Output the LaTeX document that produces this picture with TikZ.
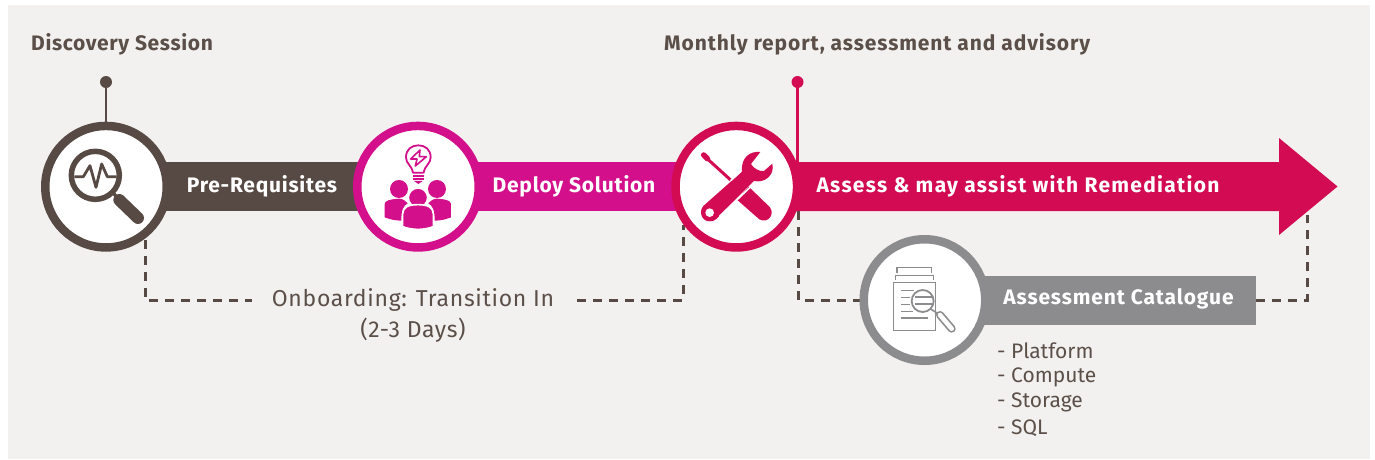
\documentclass[tikz,border=0pt]{standalone}
\usepackage{fontspec}
\setmainfont{Fira Sans}
\usetikzlibrary{calc}
\definecolor{bgc}{HTML}{F3F1EF}
\definecolor{brownc}{HTML}{574A44}
\definecolor{magc}{HTML}{D40F8C}
\definecolor{crimc}{HTML}{D30B52}
\definecolor{grayc}{HTML}{8C8C8E}
\definecolor{txtc}{HTML}{5A4F49}
\tikzset{
  ring/.style={circle,draw=#1,line width=8.5pt,fill=white,minimum size=121.5pt,inner sep=0pt},
  barlabel/.style={text=white,font=\fontsize{21}{24}\selectfont\bfseries\addfontfeature{LetterSpace=3.6},inner sep=0pt,anchor=center},
  headlabel/.style={text=txtc,font=\fontsize{21}{24}\selectfont\bfseries\addfontfeature{LetterSpace=#1},inner sep=0pt,anchor=west},
  onlabel/.style={text=txtc,font=\fontsize{23}{27}\selectfont\addfontfeature{LetterSpace=3},inner sep=0pt},
  listlabel/.style={text=txtc,font=\fontsize{21}{25}\selectfont,inner sep=0pt,anchor=west},
  dashline/.style={draw=brownc,line width=3pt,dash pattern=on 9pt off 7pt},
  stem/.style={line width=2.5pt},
  icon/.style={x=0.3333pt,y=-0.3333pt}
}
\begin{document}
\begin{tikzpicture}[x=1pt,y=-1pt]
\useasboundingbox (0,0) rectangle (1375,459);
\fill[white] (0,0) rectangle (1375,459);
\fill[bgc] (8,5) rectangle (1370,459);

% named anchor points
\coordinate (a1) at (145,240);
\coordinate (a1c) at (145,300);
\coordinate (a2) at (252,300);
\coordinate (a3) at (577,300);
\coordinate (a3c) at (683,300);
\coordinate (a4) at (683,225);
\coordinate (b1) at (798,211);
\coordinate (b1c) at (798,300);
\coordinate (b2) at (865,300);
\coordinate (e1) at (1256,300);
\coordinate (e1c) at (1307,300);
\coordinate (e2) at (1307,215);
\coordinate (d1) at (106,82);
\coordinate (d2) at (797.5,82);

% connectors
\draw[dashline] (a1) -- (a1c) -- (a2);
\draw[dashline] (a3) -- (a3c) -- (a4);
\draw[dashline] (b1) -- (b1c) -- (b2);
\draw[dashline] (e1) -- (e1c) -- (e2);

% bars
\fill[brownc] (150,162) rectangle (370,211);
\fill[magc] (460,162) rectangle (690,211);
\fill[crimc] (780,162) -- (1279,162) -- (1279,138) -- (1337.5,186.5) -- (1279,235) -- (1279,211) -- (780,211) -- cycle;
\fill[grayc] (960,276) rectangle (1256,324.5);

% stems
\fill[brownc] (d1) circle (6);
\fill[crimc] (d2) circle (6);
\draw[brownc,stem] (d1) -- (106,125);
\draw[crimc,stem] (d2) -- (797.5,165);

% circles
\node[ring=brownc] (c1) at (106,186.7) {};
\node[ring=magc] (c2) at (418,186.7) {};
\node[ring=crimc] (c3) at (736.3,186.7) {};
\node[ring=grayc] (c4) at (924.5,300) {};

% icon 1: magnifier with pulse
\begin{scope}[icon,shift={(20pt,-60pt)}]
  \draw[brownc,line width=5.5pt] (226,346) circle (72);
  \draw[brownc,line width=2.8pt,line join=round] (163,350) -- (190,350) -- (210,317) -- (228,382) -- (245,312) -- (262,350) -- (290,350);
  \draw[brownc,line width=3.5pt] (278,398) -- (300,420);
  \draw[brownc,line width=12pt,line cap=round] (298,420) -- (354,474);
\end{scope}

% icon 2: bulb and people
\begin{scope}[icon,shift={(340pt,-60pt)}]
  \draw[magc,line width=1.8pt,line join=round] (219,338) .. controls (215,315) and (198,312) .. (198,292) .. controls (198,268) and (215,256) .. (235,256) .. controls (255,256) and (272,268) .. (272,292) .. controls (272,312) and (255,315) .. (251,338) -- cycle;
  \draw[magc,line width=1.8pt] (219,348) -- (251,348);
  \draw[magc,line width=1.8pt] (219,357) -- (251,357);
  \fill[magc] (222,363) -- (248,363) -- (235,372) -- cycle;
  \draw[magc,line width=1.6pt,line join=round] (240,270) -- (212,297) -- (231,297) -- (226,318) -- (259,290) -- (238,290) -- cycle;
  \fill[magc] (177,387) circle (27);
  \fill[magc] (291,387) circle (27);
  \fill[magc] (134,432) .. controls (134,422) and (150,418) .. (177,416) .. controls (190,416) and (198,425) .. (203,430) .. controls (190,437) and (184,450) .. (184,482) .. controls (165,482) and (150,478) .. (134,472) -- cycle;
  \fill[magc] (333,432) .. controls (333,422) and (318,418) .. (291,416) .. controls (278,416) and (270,425) .. (265,430) .. controls (278,437) and (284,450) .. (284,482) .. controls (303,482) and (318,478) .. (333,472) -- cycle;
  \draw[white,line width=1.6pt,fill=magc] (234,413) circle (29);
  \draw[white,line width=1.6pt,fill=magc] (188,500) -- (188,462) .. controls (188,442) and (205,434) .. (234,434) .. controls (263,434) and (280,442) .. (280,462) -- (280,500) .. controls (250,511) and (218,511) .. (188,500) -- cycle;
\end{scope}

% icon 3: tools
\begin{scope}[icon,shift={(660pt,-60pt)}]
  \draw[crimc,line width=5.5pt,line cap=round] (131,285) -- (142,296);
  \draw[crimc,line width=3pt] (135,290) -- (212,360);
  \fill[crimc] (232,420) -- (266,380) -- (330,442) .. controls (345,462) and (325,492) .. (298,478) -- cycle;
  \fill[crimc] (301,276) .. controls (268,272) and (242,295) .. (246,335) -- (130,438) .. controls (115,455) and (125,485) .. (150,484) .. controls (165,484) and (172,475) .. (180,465) -- (282,363) .. controls (315,370) and (345,345) .. (337,311) -- (312,333) .. controls (300,336) and (280,325) .. (273,312) -- cycle;
  \draw[white,line width=1.6pt] (178,470) -- (285,368);
  \draw[white,line width=1.6pt] (212,362) -- (240,336);
  \fill[white] (149,458) circle (13);
\end{scope}

% icon 4: documents
\begin{scope}[icon,shift={(850pt,-225pt)}]
  \draw[grayc,line width=1.4pt] (141,145) -- (141,128) -- (245,128) -- (245,145);
  \draw[grayc,line width=1.4pt] (136,165) -- (136,151) -- (250,151) -- (250,165);
  \draw[grayc,line width=1.6pt] (130,172) rectangle (257,316);
  \draw[grayc,line width=1.4pt] (152,196) -- (192,196);
  \draw[grayc,line width=1.4pt] (152,217) -- (180,217);
  \draw[grayc,line width=1.4pt] (152,238) -- (180,238);
  \draw[grayc,line width=1.4pt] (152,259) -- (190,259);
  \draw[grayc,line width=1.4pt] (152,279) -- (234,279);
  \filldraw[fill=white,draw=grayc,line width=1.8pt] (218,228) circle (33);
  \draw[grayc,line width=2pt] (195,217) -- (245,217);
  \draw[grayc,line width=2pt] (195,238) -- (245,238);
  \draw[grayc,line width=1.6pt] (242,252) -- (264,266);
  \draw[grayc,line width=8pt,line cap=round] (270,270) -- (305,311);
  \draw[white,line width=4.6pt,line cap=round] (270,270) -- (305,311);
\end{scope}

% labels
\node[headlabel=3.1] (t1) at (31,44) {Discovery Session};
\node[headlabel=4.3] (t2) at (664,44) {Monthly report, assessment and advisory};
\node[barlabel] (l1) at (262,186) {Pre-Requisites};
\node[barlabel] (l2) at (574,186) {Deploy Solution};
\node[barlabel,font=\fontsize{21}{24}\selectfont\bfseries\addfontfeature{LetterSpace=6.1}] (l3) at (1018,186) {Assess \& may assist with Remediation};
\node[barlabel,font=\fontsize{21}{24}\selectfont\bfseries\addfontfeature{LetterSpace=4.1}] (l4) at (1118.5,299) {Assessment Catalogue};
\node[onlabel] (o1) at (413,300) {Onboarding: Transition In};
\node[onlabel] (o2) at (413,330) {(2-3 Days)};
\node[listlabel] (p1) at (997,351) {- Platform};
\node[listlabel] (p2) at (997,377) {- Compute};
\node[listlabel] (p3) at (997,402) {- Storage};
\node[listlabel] (p4) at (997,428) {- SQL};
\end{tikzpicture}
\end{document}
